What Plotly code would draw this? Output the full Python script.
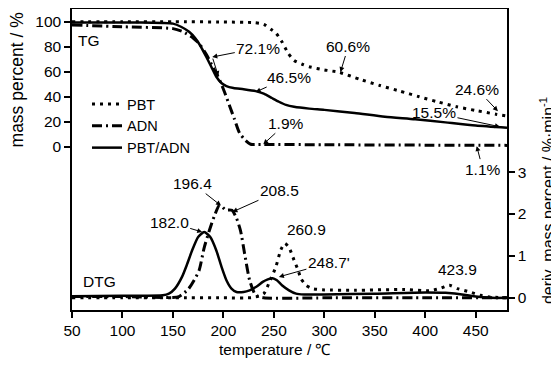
import plotly.graph_objects as go

# ---------------- data ----------------
# TG (mass percent, left axis)
pbt_tg_t = [50, 100, 150, 200, 230, 240, 247, 252, 258, 264, 270, 278, 285, 300, 315, 335, 355, 375, 394, 412, 431, 450, 470, 481]
pbt_tg_m = [100, 100, 100, 99.8, 99.3, 98, 94, 91, 84, 75, 69, 66, 64, 61.5, 59.5, 54, 49, 44.5, 40, 36, 32, 29, 26, 24.6]

adn_tg_t = [50, 100, 150, 160, 170, 176, 183, 190, 196, 201, 206, 211, 216, 222, 227, 232, 240, 300, 400, 481]
adn_tg_m = [97.5, 96, 94.5, 92, 87, 82.5, 74, 63, 54, 44, 33, 22, 11, 5, 2, 1.9, 1.9, 1.6, 1.3, 1.1]

mix_tg_t = [50, 100, 140, 150, 158, 166, 172, 177, 183, 188, 193, 198, 203, 210, 220, 232, 240, 248, 255, 262, 270, 285, 300, 330, 360, 390, 420, 450, 481]
mix_tg_m = [99.5, 99.5, 99, 98.5, 96, 92, 87, 81, 72, 64, 56, 51, 48.5, 47, 46, 44.5, 42.5, 39, 36, 33.5, 32, 30.5, 29.5, 27, 24, 22, 19.5, 17, 15.2]

# DTG (deriv. mass percent, right axis)
pbt_dtg_t = [50, 100, 150, 200, 230, 240, 246, 252, 257, 260.9, 265, 270, 274, 277, 282, 288, 300, 330, 380, 404, 414, 423.9, 432, 444, 455, 464, 481]
pbt_dtg_v = [0, 0, 0, 0, 0.01, 0.1, 0.4, 0.74, 1.15, 1.3, 1.2, 0.9, 0.66, 0.45, 0.3, 0.22, 0.19, 0.18, 0.2, 0.17, 0.22, 0.3, 0.22, 0.14, 0.06, 0.02, 0.0]

adn_dtg_t = [50, 100, 150, 156, 165, 171, 176, 181, 186, 191, 196.4, 202, 208.5, 213, 217, 221, 226, 232, 240, 300, 400, 481]
adn_dtg_v = [0.03, 0.03, 0.01, 0.03, 0.2, 0.42, 0.66, 1.2, 1.6, 1.95, 2.22, 2.1, 2.09, 1.9, 1.6, 1.06, 0.42, 0.06, 0.0, 0, 0, 0]

mix_dtg_t = [50, 100, 140, 146, 152, 159, 164, 169, 175, 181, 187, 193, 198, 203, 208, 213, 220, 226, 233, 239, 244, 248.7, 253, 258, 265, 272, 280, 300, 350, 400, 420, 440, 450, 465, 481]
mix_dtg_v = [0.04, 0.05, 0.06, 0.1, 0.22, 0.5, 0.8, 1.13, 1.45, 1.57, 1.45, 1.13, 0.75, 0.42, 0.22, 0.14, 0.14, 0.18, 0.27, 0.38, 0.44, 0.47, 0.42, 0.3, 0.18, 0.1, 0.08, 0.08, 0.1, 0.13, 0.12, 0.07, 0.03, 0.0, 0.0]

names = ["PBT", "ADN", "PBT/ADN"]
x_ticks = [50, 100, 150, 200, 250, 300, 350, 400, 450]
left_ticks = [0, 20, 40, 60, 80, 100]
right_ticks = [0, 1, 2, 3]

# ---------------- styling ----------------
FONT = "Liberation Sans, Arial, sans-serif"
styles = {
    "PBT": dict(color="black", width=3, dash="3px,5px"),
    "ADN": dict(color="black", width=3, dash="10px,4px,2px,4px"),
    "PBT/ADN": dict(color="black", width=2.5, dash="solid"),
}

fig = go.Figure()
tg = {"PBT": (pbt_tg_t, pbt_tg_m), "ADN": (adn_tg_t, adn_tg_m), "PBT/ADN": (mix_tg_t, mix_tg_m)}
dtg = {"PBT": (pbt_dtg_t, pbt_dtg_v), "ADN": (adn_dtg_t, adn_dtg_v), "PBT/ADN": (mix_dtg_t, mix_dtg_v)}

for n in names:
    fig.add_trace(go.Scatter(x=tg[n][0], y=tg[n][1], mode="lines", name=n, legendgroup=n,
                             line=dict(shape="spline", smoothing=0.6, **styles[n]), yaxis="y"))
for n in names:
    fig.add_trace(go.Scatter(x=dtg[n][0], y=dtg[n][1], mode="lines", name=n, legendgroup=n, showlegend=False,
                             line=dict(shape="spline", smoothing=0.6, **styles[n]), yaxis="y2"))

ann_font = dict(family=FONT, size=15.5, color="black")

def arrow(text, x, y, ax, ay, yref="y"):
    fig.add_annotation(text=text, x=x, y=y, xref="x", yref=yref, ax=ax, ay=ay,
                       showarrow=True, arrowhead=2, arrowsize=1, arrowwidth=1, arrowcolor="black",
                       font=ann_font)

def label(text, x, y, yref="y"):
    fig.add_annotation(text=text, x=x, y=y, xref="x", yref=yref, showarrow=False, font=ann_font)

# TG annotations
arrow("72.1%", 189, 71.8, 46, -9)
arrow("", 195, 56.5, -6, -19)
arrow("46.5%", 232, 43.8, 33, -15)
arrow("60.6%", 316, 59.8, 8, -26)
arrow("1.9%", 239.5, 2.0, 23, -21)
arrow("24.6%", 472, 28.5, -21, -22)
arrow("15.5%", 474, 16, -66, -14)
arrow("1.1%", 451, 0.5, 6, 23)
label("TG", 67, 85)

# DTG annotations
arrow("182.0", 179, 1.57, -33, -10, "y2")
arrow("196.4", 197.6, 2.2, -28, -22, "y2")
arrow("208.5", 209, 2.05, 47, -21, "y2")
label("260.9", 282, 1.64, "y2")
arrow("248.7'", 255, 0.5, 50, -14, "y2")
label("423.9", 432, 0.68, "y2")
label("DTG", 77, 0.4, "y2")

# axis titles placed as annotations
fig.add_annotation(text="mass percent / %", textangle=-90, xref="paper", yref="paper",
                   x=-0.1255, y=0.764, xanchor="center", yanchor="middle", showarrow=False,
                   font=dict(family=FONT, size=17.5, color="black"))
fig.add_annotation(text="deriv. mass percent / %·min<sup>-1</sup>", textangle=-90, xref="paper", yref="paper",
                   x=1.092, y=0.362, xanchor="center", yanchor="middle", showarrow=False,
                   font=dict(family=FONT, size=16, color="black"))
fig.add_annotation(text="temperature / ℃", xref="paper", yref="paper",
                   x=0.467, y=-0.130, xanchor="center", yanchor="middle", showarrow=False,
                   font=dict(family=FONT, size=15.5, color="black"))

axis_common = dict(showgrid=False, zeroline=False, showline=True, linecolor="black", linewidth=1.5,
                   ticks="outside", ticklen=6, tickwidth=1.5, tickcolor="black", automargin=False,
                   tickfont=dict(family=FONT, size=15.5, color="black"))

# the page body adds an 8 px margin, so the figure is 8 px smaller than the window
fig.update_layout(
    width=551, height=357,
    margin=dict(l=64, r=52, t=1, b=55, autoexpand=False),
    paper_bgcolor="white", plot_bgcolor="white",
    font=dict(family=FONT, color="black"),
    xaxis=dict(range=[50, 481], tickvals=x_ticks, mirror=True, **axis_common),
    yaxis=dict(range=[-130.6, 110.2], tickvals=left_ticks, **axis_common),
    yaxis2=dict(range=[-0.29, 6.89], tickvals=right_ticks, overlaying="y", side="right", **axis_common),
    legend=dict(x=0.0345, y=0.7375, xanchor="left", yanchor="top", bgcolor="rgba(0,0,0,0)",
                font=dict(family=FONT, size=14.5, color="black"), tracegroupgap=0),
    showlegend=True,
)

fig.write_html("out.html")
